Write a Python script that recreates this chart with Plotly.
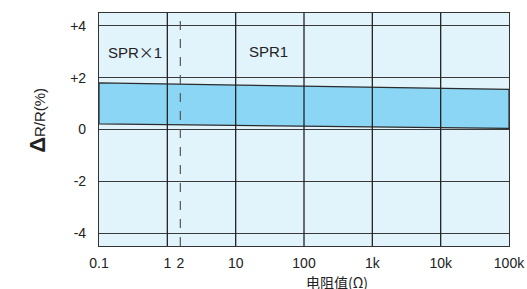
import math
import plotly.graph_objects as go

# Data
x_ends = [0.1, 100000]
band_upper = [1.8, 1.55]
band_lower = [0.22, 0.04]
dash_x = 1.55
x_tickvals = [0.1, 1, 1.55, 10, 100, 1000, 10000, 100000]
x_ticktext = ["0.1", "1", "2", "10", "100", "1k", "10k", "100k"]
y_tickvals = [4, 2, 0, -2, -4]
y_ticktext = ["+4", "+2", "0", "-2", "-4"]
labels = [("SPR<span style='font-family:Noto Sans CJK SC'>×</span>1", 0.125), ("SPR1", 14.5)]

font = "Liberation Sans, Arial, sans-serif"
fig = go.Figure()

poly_x = x_ends + x_ends[::-1] + [x_ends[0]]
poly_y = band_upper + band_lower[::-1] + [band_upper[0]]
fig.add_trace(go.Scatter(x=poly_x, y=poly_y, mode="lines", fill="toself",
                         fillcolor="#8cd6f5", line=dict(color="#2b2b2b", width=1.2),
                         hoverinfo="skip", showlegend=False))
fig.add_trace(go.Scatter(x=[dash_x, dash_x], y=[-4.5, 4.5], mode="lines",
                         line=dict(color="#555555", width=1.2, dash="dash"),
                         showlegend=False, hoverinfo="skip"))

for txt, xv in labels:
    fig.add_annotation(x=math.log10(xv), y=3.02, text=txt, showarrow=False,
                       xanchor="left", yanchor="middle",
                       font=dict(family=font, size=15, color="#222"))

fig.add_annotation(xref="paper", yref="paper", x=0.58, y=-0.105, xanchor="center", yanchor="top",
                   text="电阻值(Ω)", showarrow=False,
                   font=dict(family="Noto Sans CJK SC, sans-serif", size=14, color="#222"))
fig.add_annotation(xref="paper", yref="paper", x=-0.152, y=0.54, xanchor="center", yanchor="middle",
                   text="<b><span style='font-size:22px'>Δ</span></b>R/R(%)", textangle=-90, showarrow=False,
                   font=dict(family=font, size=15, color="#222"))

fig.update_xaxes(type="log", range=[-1, 5], tickvals=x_tickvals, ticktext=x_ticktext,
                 showgrid=False, showline=True, mirror=True, linecolor="#333", linewidth=1.2,
                 ticks="", ticklabelstandoff=4, automargin=False,
                 tickfont=dict(family=font, size=14, color="#222"), zeroline=False)
for xv in [1, 10, 100, 1000, 10000]:
    fig.add_shape(type="line", x0=xv, x1=xv, y0=-4.5, y1=4.5, xref="x", yref="y",
                  line=dict(color="#222", width=1.3), layer="above")
fig.update_yaxes(range=[-4.5, 4.5], tickvals=y_tickvals, ticktext=y_ticktext,
                 showgrid=True, gridcolor="#3a3a3a", gridwidth=1.2,
                 showline=True, mirror=True, linecolor="#333", linewidth=1.2,
                 ticks="", ticklabelstandoff=9, automargin=False,
                 tickfont=dict(family=font, size=14, color="#222"),
                 zeroline=False)

fig.update_layout(width=527, height=289, margin=dict(l=99, r=18, t=13, b=43, autoexpand=False),
                  plot_bgcolor="#e1f3fb", paper_bgcolor="white")
fig.write_html("out.html", config={"displayModeBar": False},
               post_script="document.body.style.margin='0';document.body.style.overflow='hidden';")
